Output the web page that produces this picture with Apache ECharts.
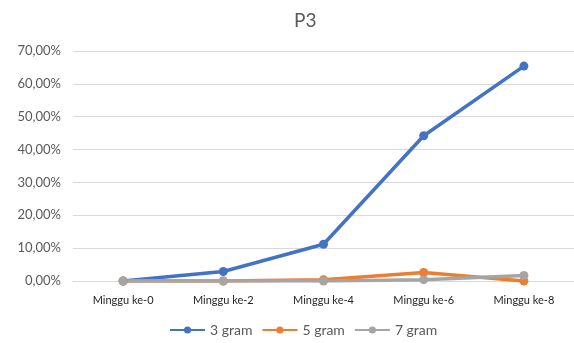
<!DOCTYPE html>
<html lang="id">
<head>
    <meta charset="utf-8">
    <title>P3</title>
    <script src="https://cdn.jsdelivr.net/npm/echarts@6/dist/echarts.min.js"></script>
    <style>
        html, body { margin: 0; padding: 0; background: #fff; }
        #chart { width: 574px; height: 343px; }
    </style>
</head>
<body>
<div id="chart"></div>
<script type="text/javascript">
    // data (persen)
    var weeks = ['Minggu ke-0', 'Minggu ke-2', 'Minggu ke-4', 'Minggu ke-6', 'Minggu ke-8'];
    var gram3 = [0, 2.9, 11.2, 44.2, 65.4];
    var gram5 = [0, 0, 0.4, 2.6, 0];
    var gram7 = [0, 0, 0, 0.4, 1.7];

    var myChart = echarts.init(document.getElementById('chart'));

    function line(name, data, color) {
        return {
            name: name,
            type: 'line',
            data: data,
            symbol: 'circle',
            symbolSize: 9,
            showSymbol: true,
            lineStyle: { width: 3.5, color: color },
            itemStyle: { color: color },
            emphasis: { disabled: true }
        };
    }

    var option = {
        animation: false,
        textStyle: { fontFamily: 'Lato' },
        title: {
            text: 'P3',
            left: 289,
            top: 6,
            textStyle: { fontSize: 19, fontWeight: 'normal', color: '#595959', fontFamily: 'Lato' }
        },
        legend: {
            bottom: 1,
            left: 164,
            itemWidth: 35,
            itemHeight: 9,
            itemGap: 9,
            textStyle: { fontSize: 14, color: '#595959' },
            data: ['3 gram', '5 gram', '7 gram']
        },
        grid: { left: 73, top: 51, width: 505, height: 230, containLabel: false },
        xAxis: {
            type: 'category',
            data: weeks,
            boundaryGap: true,
            axisLine: { lineStyle: { color: '#d9d9d9' } },
            axisTick: { show: false },
            axisLabel: { fontSize: 11, color: '#262626', margin: 14 }
        },
        yAxis: {
            type: 'value',
            min: 0,
            max: 70,
            interval: 10,
            axisLine: { show: false },
            axisTick: { show: false },
            splitLine: { lineStyle: { color: '#d9d9d9' } },
            axisLabel: {
                fontSize: 13,
                color: '#595959',
                margin: 12,
                formatter: function (v) { return v.toFixed(2).replace('.', ',') + '%'; }
            }
        },
        series: [
            line('3 gram', gram3, '#4472c4'),
            line('5 gram', gram5, '#ed7d31'),
            line('7 gram', gram7, '#a5a5a5')
        ]
    };
    myChart.setOption(option);
</script>
</body>
</html>
